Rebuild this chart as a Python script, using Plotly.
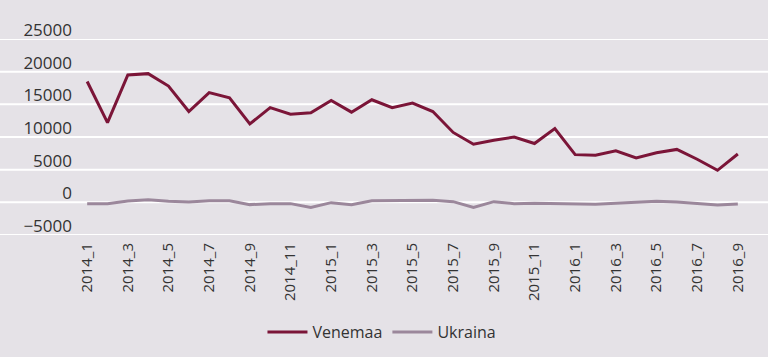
import plotly.graph_objects as go

months = [f"{y}_{m}" for y, n in [(2014, 12), (2015, 12), (2016, 9)] for m in range(1, n + 1)]

venemaa = [18500, 12200, 19500, 19700, 17800, 13900, 16800, 16000, 12000, 14500,
           13500, 13700, 15600, 13800, 15700, 14500, 15200, 13900, 10700, 8900,
           9500, 10000, 9000, 11300, 7300, 7200, 7900, 6800, 7600, 8100,
           6600, 4900, 7400]

ukraina = [-200, -200, 200, 400, 150, 50, 250, 250, -350, -200,
           -200, -800, -50, -350, 250, 250, 300, 300, 100, -800,
           100, -200, -150, -200, -250, -300, -150, 50, 150, 50,
           -150, -400, -250]

y_ticks = [-5000, 0, 5000, 10000, 15000, 20000, 25000]
y_labels = ["\u22125000", "0", "5000", "10000", "15000", "20000", "25000"]
x_ticks = months[::2]

BG = "#e5e2e7"
FONT = "Open Sans"

fig = go.Figure()
fig.add_trace(go.Scatter(x=months, y=venemaa, name="Venemaa", mode="lines",
                         line=dict(color="#7b1538", width=3)))
fig.add_trace(go.Scatter(x=months, y=ukraina, name="Ukraina", mode="lines",
                         line=dict(color="#9b879b", width=3)))

for v in y_ticks:
    fig.add_shape(type="line", xref="paper", yref="y", x0=-0.2, x1=1.2, y0=v, y1=v,
                  line=dict(color="white", width=2), layer="below")

fig.update_layout(
    width=768, height=357,
    paper_bgcolor=BG, plot_bgcolor=BG,
    margin=dict(l=77, r=20, t=39, b=122, autoexpand=False),
    font=dict(family=FONT, size=15, color="#333333"),
    showlegend=True,
    legend=dict(orientation="h", x=0.4545, xanchor="center", y=-0.495, yanchor="middle",
                font=dict(size=16, color="#333333"), bgcolor="rgba(0,0,0,0)",
                itemwidth=40),
    xaxis=dict(type="category", range=[-0.5, len(months) - 0.5],
               tickmode="array", tickvals=x_ticks, ticktext=x_ticks,
               tickangle=-90, showgrid=False, zeroline=False, showline=False,
               tickfont=dict(size=15), automargin=False, ticklabelstandoff=4),
    yaxis=dict(range=[-5000, 25000], tickmode="array", tickvals=y_ticks, ticktext=y_labels,
               showgrid=False, zeroline=False, showline=False, automargin=False,
               tickfont=dict(size=17), ticklabelshift=-9, ticklabelstandoff=4),
)

fig.write_html("out.html", config={"displayModeBar": False},
               post_script="document.body.style.margin='0';document.body.style.background='%s';" % BG)
